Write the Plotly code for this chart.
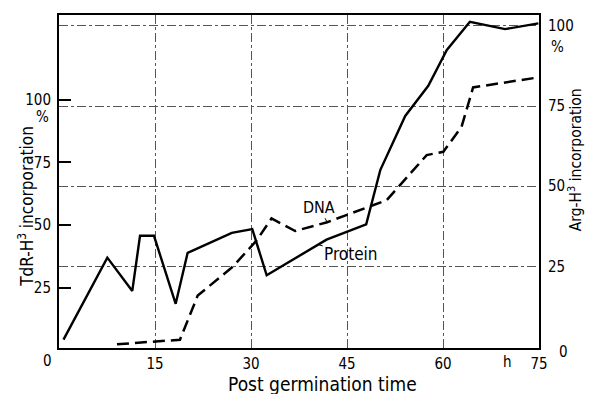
import numpy as np
import plotly.graph_objects as go

# ---- data ----
protein_h = [0.7, 7.55, 11.45, 12.66, 14.84, 18.23, 20.1, 27.0, 30.2, 32.45, 41.8, 48.0, 50.2, 54.1, 57.7, 60.6, 64.2, 69.7, 74.9]
protein_pct = [2.1, 27.7, 17.3, 34.5, 34.5, 13.3, 29.2, 35.4, 36.6, 22.2, 33.3, 38.1, 55.0, 71.9, 81.3, 92.5, 101.3, 99.0, 100.8]

dna_h = [9.06, 18.9, 21.67, 27.14, 30.9, 33.2, 36.9, 41.9, 51.2, 57.45, 60.05, 62.9, 64.7, 74.9]
dna_pct = [2.4, 4.2, 21.8, 33.3, 43.9, 52.6, 47.6, 51.1, 59.9, 77.9, 79.2, 89.2, 104.9, 108.9]

x_ticks = [15, 30, 45, 60, 75]
left_ticks = [25, 50, 75, 100]
right_ticks = [25, 50, 75, 100]
right_grid = [25, 50, 75, 100]

FONT = "DejaVu Sans Condensed, Liberation Sans Narrow, Roboto Condensed, DejaVu Sans, sans-serif"
GRID = "#555555"

fig = go.Figure()
fig.add_trace(go.Scatter(x=dna_h, y=dna_pct, mode="lines", yaxis="y",
                         line=dict(color="black", width=2.5, dash="12px,6px"), showlegend=False))
fig.add_trace(go.Scatter(x=protein_h, y=protein_pct, mode="lines", yaxis="y2",
                         line=dict(color="black", width=2.4), showlegend=False))

fig.update_layout(
    width=592, height=394, autosize=False,
    margin=dict(l=59, r=53, t=15, b=46),
    paper_bgcolor="white", plot_bgcolor="white",
    font=dict(family=FONT, size=15, color="black"),
    xaxis=dict(range=[0, 75], tickvals=x_ticks, ticktext=[str(v) for v in x_ticks],
               showgrid=True, gridcolor=GRID, gridwidth=1, griddash="dashdot",
               showline=True, linecolor="black", linewidth=2, mirror=True,
               ticks="", ticklabelstandoff=1, zeroline=False),
    yaxis=dict(range=[0.9, 133.8], tickvals=left_ticks, ticktext=[str(v) for v in left_ticks],
               showgrid=False, showline=True, linecolor="black", linewidth=2, mirror=True,
               ticks="inside", ticklen=12, tickwidth=1.5, tickcolor="black",
               ticklabelstandoff=3, zeroline=False),
    yaxis2=dict(range=[-0.5, 103.4], overlaying="y", side="right",
                tickvals=right_grid, ticktext=[str(v) for v in right_ticks],
                showgrid=True, gridcolor=GRID, gridwidth=1, griddash="dashdot",
                showline=False, ticks="", ticklabelstandoff=8, zeroline=False),
)

def ann(text, x, y, size=15, **kw):
    d = dict(text=text, x=x, y=y, xref="paper", yref="paper", showarrow=False,
             xanchor="center", yanchor="middle", font=dict(family=FONT, size=size, color="black"))
    d.update(kw)
    fig.add_annotation(**d)

ann("0", -0.025, -0.04)
ann("0", 1.052, -0.013)
ann("h", 0.935, -0.043)
ann("%", -0.035, 0.693)
ann("%", 1.0375, 0.904)
ann("TdR-H<sup>3</sup> incorporation", -0.068, 0.425, size=17, textangle=-90)
ann("Arg-H<sup>3</sup> incorporation", 1.076, 0.565, size=15.5, textangle=-90)
ann("Post germination time", 0.548, -0.108, size=19)

# curve labels with short leaders
dna_x = 41.9
fig.add_annotation(x=dna_x, y=float(np.interp(dna_x, dna_h, dna_pct)), xref="x", yref="y",
                   text="DNA", showarrow=True, arrowhead=0, arrowwidth=1, arrowcolor="black",
                   ax=-8, ay=-15, font=dict(family=FONT, size=16, color="black"))
prot_x = 40.5
fig.add_annotation(x=prot_x, y=float(np.interp(prot_x, protein_h, protein_pct)), xref="x", yref="y2",
                   text="Protein", showarrow=True, arrowhead=0, arrowwidth=1, arrowcolor="black",
                   ax=33, ay=9, font=dict(family=FONT, size=17, color="black"))

fig.write_html("out.html", config={"displayModeBar": False},
               post_script="document.body.style.margin='0';document.body.style.overflow='hidden';")
